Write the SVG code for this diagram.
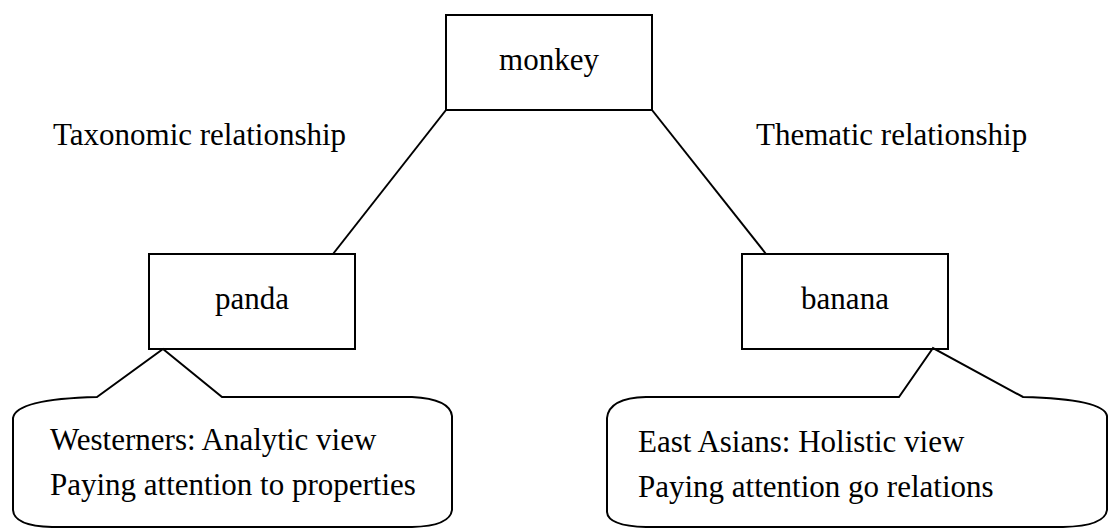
<svg xmlns="http://www.w3.org/2000/svg" width="1108" height="529" viewBox="0 0 1108 529">
<style>
.box{fill:#fff;stroke:#000;stroke-width:2}
.ln{fill:none;stroke:#000;stroke-width:2}
.t{font-family:"Liberation Serif","Times New Roman",serif;font-size:31px;fill:#000}
</style>
<rect width="1108" height="529" fill="#fff"/>
<g id="connectors">
<line class="ln" x1="446" y1="110" x2="333" y2="254"/>
<line class="ln" x1="652" y1="110" x2="766" y2="254"/>
</g>
<g id="monkey">
<rect class="box" x="446" y="15" width="206" height="95"/>
<text class="t" x="549" y="70" text-anchor="middle">monkey</text>
</g>
<g id="panda">
<rect class="box" x="149" y="254" width="206" height="95"/>
<text class="t" x="252" y="309" text-anchor="middle">panda</text>
</g>
<g id="banana">
<rect class="box" x="742" y="254" width="206" height="95"/>
<text class="t" x="845" y="309" text-anchor="middle">banana</text>
</g>
<g id="label-taxonomic">
<text class="t" x="53" y="145">Taxonomic relationship</text>
</g>
<g id="label-thematic">
<text class="t" x="756" y="145">Thematic relationship</text>
</g>
<g id="callout-west">
<path class="ln" d="M97,397 L163,349 L222,397 L412,397 Q450,399 452,416 L452,510 Q450,526 412,527 L52,527 Q14,526 13,510 L13,418 Q16,399 97,397 Z" fill="#fff"/>
<text class="t" x="50" y="450">Westerners: Analytic view</text>
<text class="t" x="50" y="495">Paying attention to properties</text>
</g>
<g id="callout-east">
<path class="ln" d="M899,397 L933,348 L1023,397 Q1104,399 1107,416 L1107,510 Q1105,526 1063,527 L646,527 Q608,526 607,512 L607,418 Q609,398 646,397 Z" fill="#fff"/>
<text class="t" x="638" y="452">East Asians: Holistic view</text>
<text class="t" x="638" y="497">Paying attention go relations</text>
</g>
</svg>
